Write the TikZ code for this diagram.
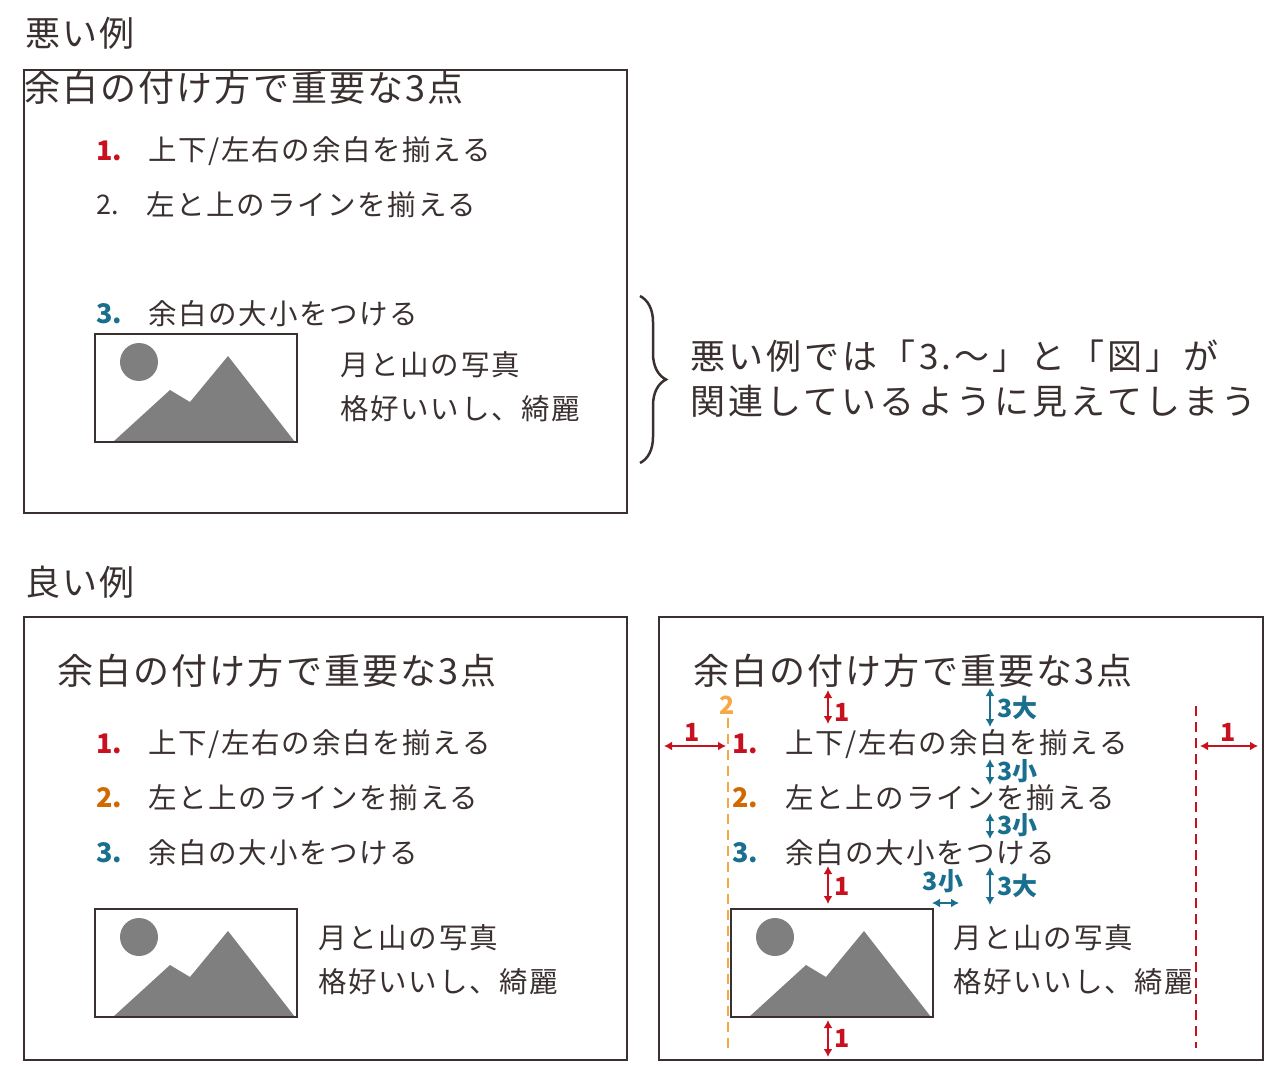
\documentclass[tikz,border=0pt]{standalone}
\usepackage{fontspec}
\setmainfont{Noto Sans CJK JP}
\newfontfamily\wide[LetterSpace=6]{Noto Sans CJK JP}
\newfontfamily\wider[LetterSpace=9]{Noto Sans CJK JP}
\usetikzlibrary{decorations.pathreplacing,arrows.meta}
\definecolor{txt}{HTML}{3A3030}
\definecolor{rd}{HTML}{C8101E}
\definecolor{og}{HTML}{D06A00}
\definecolor{tl}{HTML}{1A6E8E}
\definecolor{lo}{HTML}{F5A845}
\definecolor{gr}{HTML}{7F7F7F}
\tikzset{
 frame/.style={draw=txt,line width=1.6pt},
 hd/.style={anchor=west,text=txt,font=\wide\fontsize{35}{38}\selectfont,inner sep=0},
 ti/.style={anchor=west,text=txt,font=\wide\fontsize{36}{40}\selectfont,inner sep=0},
 li/.style={anchor=west,text=txt,font=\wide\fontsize{28.5}{32}\selectfont,inner sep=0},
 num/.style={anchor=west,font=\fontsize{27}{32}\selectfont\bfseries,inner sep=0},
 an/.style={anchor=west,font=\fontsize{25}{28}\selectfont\bfseries,inner sep=0},
 ra/.style={draw=rd,line width=2pt,{Latex[length=8pt,width=9pt]}-{Latex[length=8pt,width=9pt]}},
 ta/.style={draw=tl,line width=2pt,{Latex[length=8pt,width=9pt]}-{Latex[length=8pt,width=9pt]}},
}
\newcommand{\photo}[2]{%
 \fill[gr] (#1+18,#2+108) -- (#1+75,#2+56) -- (#1+95,#2+68) -- (#1+133,#2+22) -- (#1+200,#2+108) -- cycle;
 \fill[gr] (#1+44,#2+28) circle (19);
 \draw[frame] (#1,#2) rectangle (#1+202,#2+108);
}
\begin{document}
\begin{tikzpicture}[x=1pt,y=-1pt]
\useasboundingbox (0,0) rectangle (1280,1078);
% top
\node[hd] (h1) at (25,33) {悪い例};
\draw[frame] (24,70) rectangle (627,513);
\node[ti] (t1) at (24,88) {余白の付け方で重要な3点};
\node[num,text=rd] (a1) at (96,151) {1.};
\node[li] (b1) at (148,151) {上下/左右の余白を揃える};
\node[li,font=\fontsize{27}{32}\selectfont] (a2) at (96,205) {2.};
\node[li] (b2) at (146,205) {左と上のラインを揃える};
\node[num,text=tl] (a3) at (96,314) {3.};
\node[li] (b3) at (148,314) {余白の大小をつける};
\photo{95}{334}
\node[li] (c1) at (340,365) {月と山の写真};
\node[li] (c2) at (340,409) {格好いいし、綺麗};
\draw[txt,line width=2.5pt,decorate,decoration={brace,amplitude=26pt}] (640,296) -- (640,463);
\node[hd,font=\wider\fontsize{35}{38}\selectfont] (n1) at (690,356) {悪い例では「3.〜」と「図」が};
\node[hd,font=\wider\fontsize{35}{38}\selectfont] (n2) at (690,401) {関連しているように見えてしまう};
% bottom left
\node[hd] (h2) at (25,582) {良い例};
\draw[frame] (24,617) rectangle (627,1060);
\node[ti] (t2) at (57,671) {余白の付け方で重要な3点};
\node[num,text=rd] at (96,744) {1.};
\node[li] at (148,744) {上下/左右の余白を揃える};
\node[num,text=og] at (96,798) {2.};
\node[li] at (148,798) {左と上のラインを揃える};
\node[num,text=tl] at (96,853) {3.};
\node[li] at (148,853) {余白の大小をつける};
\photo{95}{909}
\node[li] at (318,938) {月と山の写真};
\node[li] at (318,982) {格好いいし、綺麗};
% bottom right
\draw[frame] (659,617) rectangle (1263,1060);
\node[ti] (t3) at (693,671) {余白の付け方で重要な3点};
\draw[lo,line width=2pt,dash pattern=on 10pt off 6pt] (728,718) -- (728,1048);
\node[an,text=lo,anchor=center] at (727,705) {2};
\draw[rd,line width=2pt,dash pattern=on 10pt off 6pt] (1196,706) -- (1196,1048);
\node[num,text=rd] at (732,744) {1.};
\node[li] at (785,744) {上下/左右の余白を揃える};
\node[num,text=og] at (732,798) {2.};
\node[li] at (785,798) {左と上のラインを揃える};
\node[num,text=tl] at (732,853) {3.};
\node[li] at (785,853) {余白の大小をつける};
\photo{731}{909}
\node[li] at (953,938) {月と山の写真};
\node[li] at (953,982) {格好いいし、綺麗};
\coordinate (l1) at (664,746); \coordinate (l2) at (726,746);
\draw[ra] (l1) -- (l2); \node[an,text=rd,anchor=center] at (692,732) {1};
\coordinate (r1) at (1200,746); \coordinate (r2) at (1258,746);
\draw[ra] (r1) -- (r2); \node[an,text=rd,anchor=center] at (1228,732) {1};
\draw[ra] (828,690) -- (828,724); \node[an,text=rd] at (834,712) {1};
\draw[ra] (828,866) -- (828,904); \node[an,text=rd] at (834,886) {1};
\draw[ra] (828,1020) -- (828,1057); \node[an,text=rd] at (834,1038) {1};
\draw[ta] (990,688) -- (990,727); \node[an,text=tl] at (997,708) {3大};
\draw[ta] (990,759) -- (990,785); \node[an,text=tl] at (997,771) {3小};
\draw[ta] (990,813) -- (990,839); \node[an,text=tl] at (997,825) {3小};
\draw[ta] (990,867) -- (990,905); \node[an,text=tl] at (997,886) {3大};
\draw[ta] (932,903) -- (959,903); \node[an,text=tl,anchor=center] at (943,881) {3小};
\end{tikzpicture}
\end{document}
